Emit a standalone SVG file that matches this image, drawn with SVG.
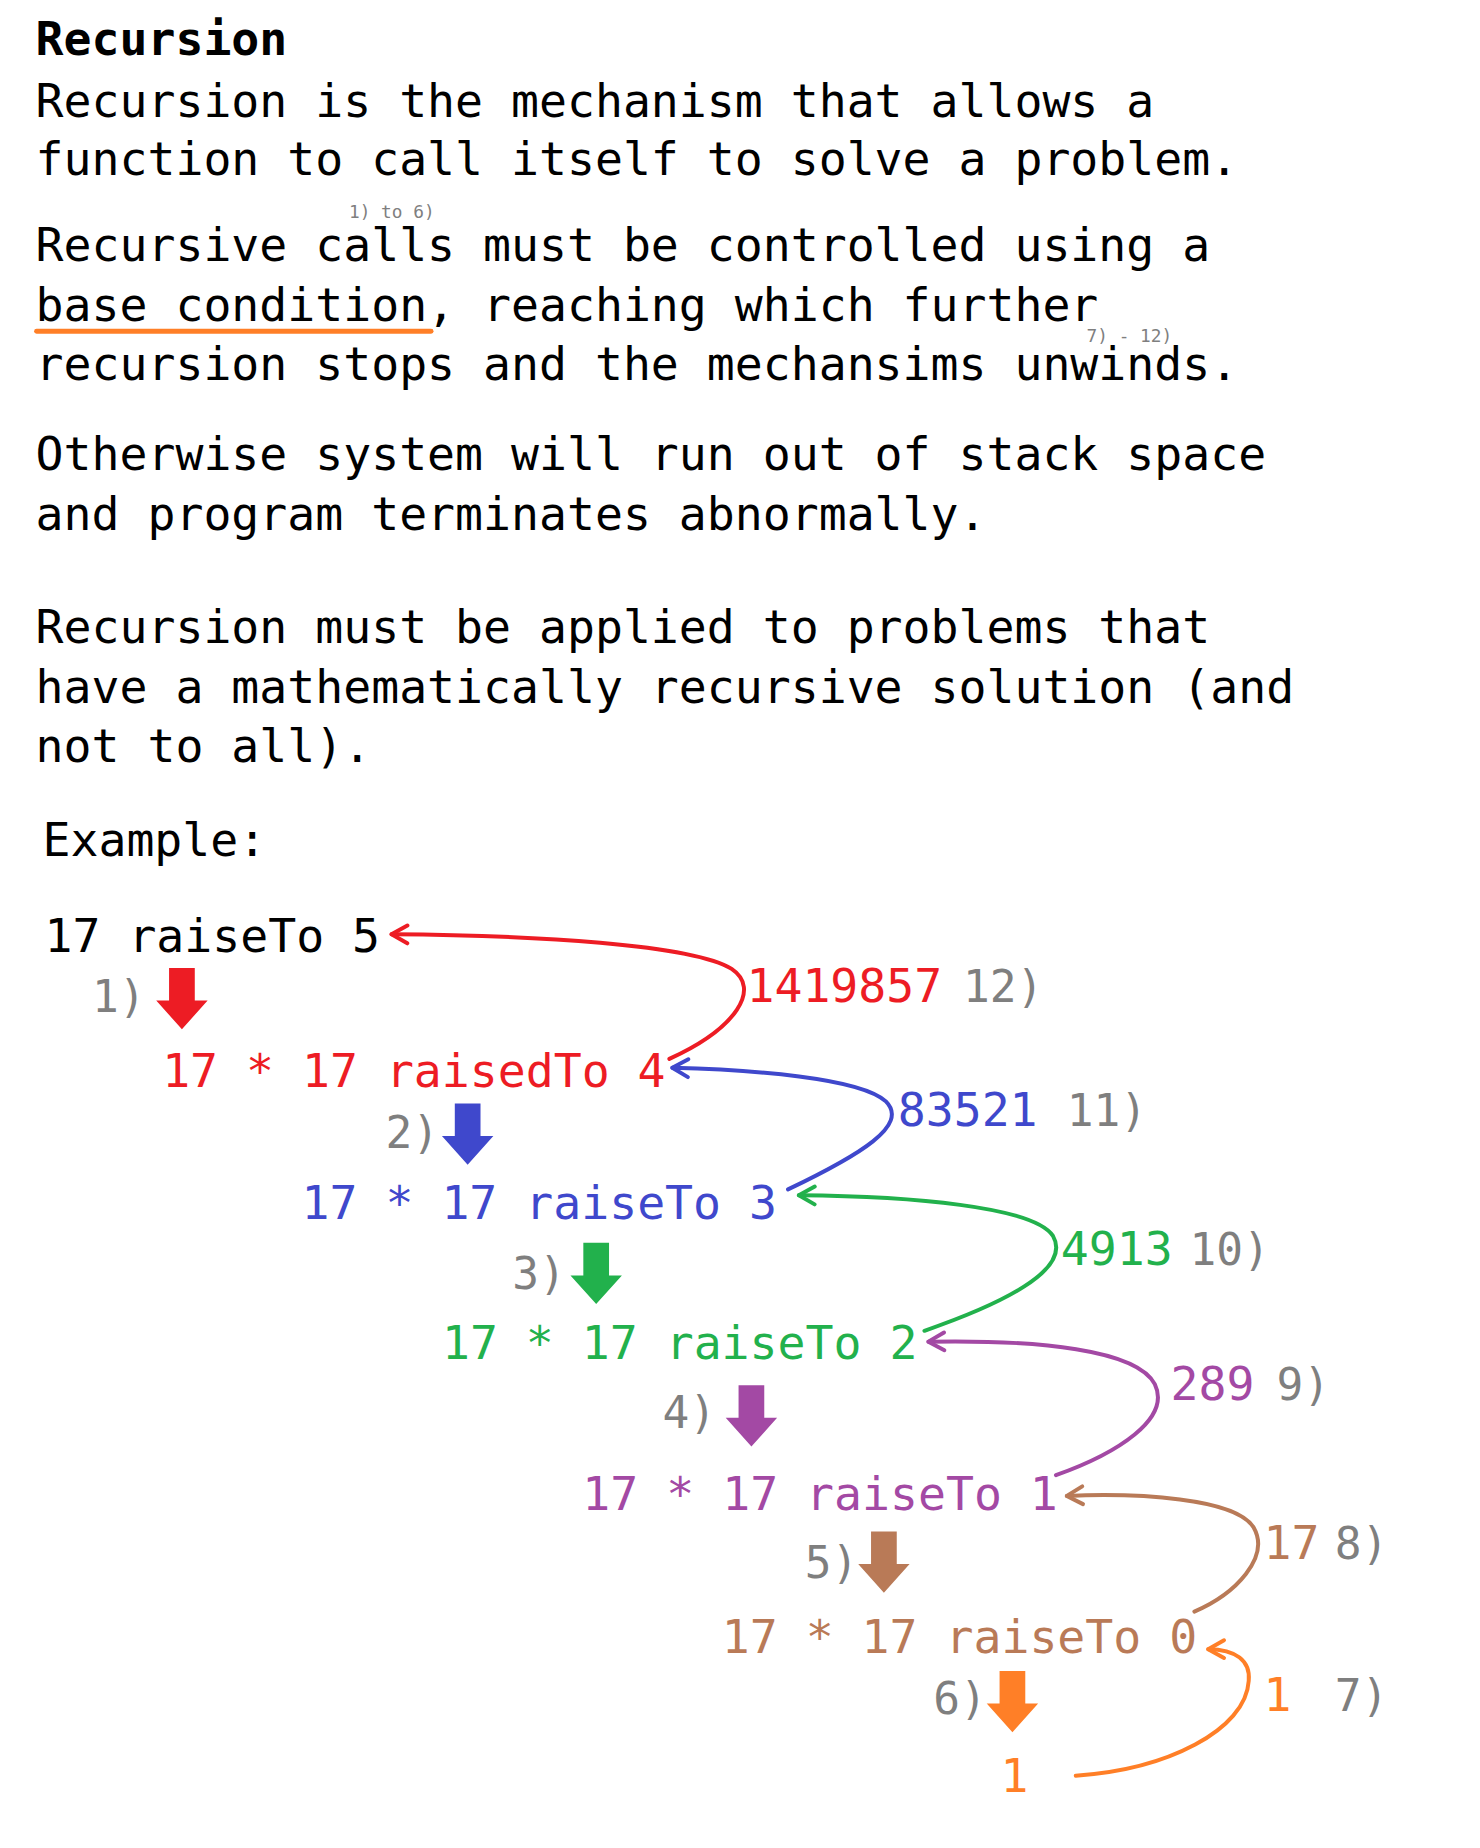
<svg xmlns="http://www.w3.org/2000/svg" width="1480" height="1848" viewBox="0 0 1480 1848">
<style>
text{font-family:"DejaVu Sans Mono","Liberation Mono",monospace;font-size:47px;fill:#000}
.b{font-weight:bold}
.sm{font-size:18px;fill:#7f7f7f}
.g{fill:#7f7f7f;font-size:45px}
.red{fill:#ed1c24}.blue{fill:#3f48cc}.green{fill:#22b14c}.purple{fill:#a349a4}.brown{fill:#b97a57}.orange{fill:#ff7f27}
.c{fill:none;stroke-width:4;stroke-linecap:round}
</style>
<defs>
<path id="down" d="M -13 -62 H 13 V -29 H 26 L 0 0 L -26 -29 H -13 Z"/>
<marker id="mr" viewBox="0 0 24 24" refX="21" refY="12" markerWidth="24" markerHeight="24" markerUnits="userSpaceOnUse" orient="auto"><path d="M 5 3 L 21 12 L 5 21" fill="none" stroke="#ed1c24" stroke-width="4" stroke-linecap="round" stroke-linejoin="round"/></marker>
<marker id="mb" viewBox="0 0 24 24" refX="21" refY="12" markerWidth="24" markerHeight="24" markerUnits="userSpaceOnUse" orient="auto"><path d="M 5 3 L 21 12 L 5 21" fill="none" stroke="#3f48cc" stroke-width="4" stroke-linecap="round" stroke-linejoin="round"/></marker>
<marker id="mg" viewBox="0 0 24 24" refX="21" refY="12" markerWidth="24" markerHeight="24" markerUnits="userSpaceOnUse" orient="auto"><path d="M 5 3 L 21 12 L 5 21" fill="none" stroke="#22b14c" stroke-width="4" stroke-linecap="round" stroke-linejoin="round"/></marker>
<marker id="mp" viewBox="0 0 24 24" refX="21" refY="12" markerWidth="24" markerHeight="24" markerUnits="userSpaceOnUse" orient="auto"><path d="M 5 3 L 21 12 L 5 21" fill="none" stroke="#a349a4" stroke-width="4" stroke-linecap="round" stroke-linejoin="round"/></marker>
<marker id="mn" viewBox="0 0 24 24" refX="21" refY="12" markerWidth="24" markerHeight="24" markerUnits="userSpaceOnUse" orient="auto"><path d="M 5 3 L 21 12 L 5 21" fill="none" stroke="#b97a57" stroke-width="4" stroke-linecap="round" stroke-linejoin="round"/></marker>
<marker id="mo" viewBox="0 0 24 24" refX="21" refY="12" markerWidth="24" markerHeight="24" markerUnits="userSpaceOnUse" orient="auto"><path d="M 5 3 L 21 12 L 5 21" fill="none" stroke="#ff7f27" stroke-width="4" stroke-linecap="round" stroke-linejoin="round"/></marker>
</defs>
<rect width="1480" height="1848" fill="#fff"/>
<g transform="scale(0.9887)">
<g id="intro">
<text class="b" x="36" y="56">Recursion</text>
<text x="36" y="118">Recursion is the mechanism that allows a</text>
<text x="36" y="177">function to call itself to solve a problem.</text>
<text class="sm" x="353" y="221">1) to 6)</text>
<text x="36" y="264">Recursive calls must be controlled using a</text>
<text x="36" y="325">base condition, reaching which further</text>
<line x1="37" y1="335" x2="436" y2="335" stroke="#ff7f27" stroke-width="5" stroke-linecap="round"/>
<text class="sm" x="1099" y="346">7) - 12)</text>
<text x="36" y="384">recursion stops and the mechansims unwinds.</text>
<text x="36" y="475">Otherwise system will run out of stack space</text>
<text x="36" y="536">and program terminates abnormally.</text>
<text x="36" y="650">Recursion must be applied to problems that</text>
<text x="36" y="711">have a mathematically recursive solution (and</text>
<text x="36" y="771">not to all).</text>
<text x="43" y="866">Example:</text>
</g>
<g id="node-5"><text x="45" y="963">17 raiseTo 5</text></g>
<g id="node-4"><text class="red" x="164" y="1099">17 * 17 raisedTo 4</text></g>
<g id="node-3"><text class="blue" x="305" y="1233">17 * 17 raiseTo 3</text></g>
<g id="node-2"><text class="green" x="447" y="1375">17 * 17 raiseTo 2</text></g>
<g id="node-1"><text class="purple" x="589" y="1527">17 * 17 raiseTo 1</text></g>
<g id="node-0"><text class="brown" x="730" y="1672">17 * 17 raiseTo 0</text></g>
<g id="node-base"><text class="orange" x="1012" y="1812">1</text></g>
<g id="steps-down">
<text class="g" x="93" y="1024">1)</text><use href="#down" x="184" y="1041" fill="#ed1c24"/>
<text class="g" x="390" y="1161">2)</text><use href="#down" x="473" y="1178" fill="#3f48cc"/>
<text class="g" x="518" y="1304">3)</text><use href="#down" x="603" y="1319" fill="#22b14c"/>
<text class="g" x="670" y="1444">4)</text><use href="#down" x="760" y="1463" fill="#a349a4"/>
<text class="g" x="814" y="1596">5)</text><use href="#down" x="894" y="1611" fill="#b97a57"/>
<text class="g" x="944" y="1734">6)</text><use href="#down" x="1024" y="1752" fill="#ff7f27"/>
</g>
<g id="connectors">
<path class="c" stroke="#ed1c24" marker-end="url(#mr)" d="M 677 1071 C 745 1040, 770 1000, 740 980 C 700 955, 540 946, 396 945"/>
<path class="c" stroke="#3f48cc" marker-end="url(#mb)" d="M 797 1203 C 870 1168, 920 1138, 896 1114 C 870 1090, 760 1082, 680 1080"/>
<path class="c" stroke="#22b14c" marker-end="url(#mg)" d="M 935 1346 C 1010 1320, 1085 1285, 1065 1250 C 1045 1220, 920 1210, 808 1209"/>
<path class="c" stroke="#a349a4" marker-end="url(#mp)" d="M 1068 1492 C 1130 1470, 1185 1435, 1168 1400 C 1150 1365, 1050 1355, 939 1357"/>
<path class="c" stroke="#b97a57" marker-end="url(#mn)" d="M 1208 1630 C 1250 1612, 1285 1575, 1268 1545 C 1250 1515, 1150 1510, 1079 1513"/>
<path class="c" stroke="#ff7f27" marker-end="url(#mo)" d="M 1088 1796 C 1180 1790, 1260 1750, 1263 1700 C 1265 1680, 1250 1668, 1222 1668"/>
</g>
<g id="results">
<text class="red" x="755" y="1013">1419857</text><text class="g" x="974" y="1013">12)</text>
<text class="blue" x="908" y="1139">83521</text><text class="g" x="1079" y="1139">11)</text>
<text class="green" x="1073" y="1279">4913</text><text class="g" x="1203" y="1279">10)</text>
<text class="purple" x="1184" y="1416">289</text><text class="g" x="1291" y="1416">9)</text>
<text class="brown" x="1278" y="1577">17</text><text class="g" x="1350" y="1577">8)</text>
<text class="orange" x="1278" y="1731">1</text><text class="g" x="1350" y="1731">7)</text>
</g>
</g>
</svg>
